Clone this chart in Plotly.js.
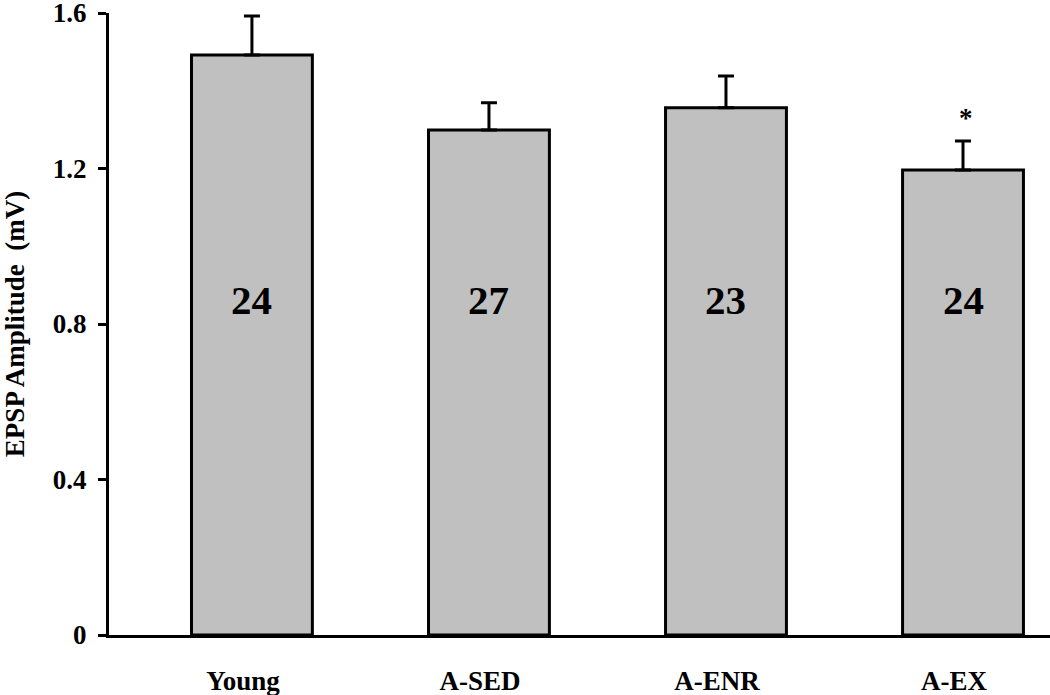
<!DOCTYPE html>
<html><head><meta charset="utf-8">
<script src="https://cdn.plot.ly/plotly-3.0.1.min.js"></script>
<style>body{margin:0;background:#fff}#c{width:1050px;height:695px}</style>
</head><body><div id="c"></div>
<script>
const categories = ["Young", "A-SED", "A-ENR", "A-EX"];
const means = [1.492, 1.299, 1.356, 1.196];
const sem = [0.100, 0.070, 0.082, 0.075];
const nLabels = ["24", "27", "23", "24"];
const nLabelY = 0.862;
const sigMarks = ["", "", "", "*"];

const serif = "Liberation Serif, Times New Roman, serif";
const annotations = categories.map((c, i) => ({
  x: c, y: nLabelY, xref: 'x', yref: 'y', text: '<b>' + nLabels[i] + '</b>',
  showarrow: false, font: {family: serif, size: 41, color: '#000'}
}));
categories.forEach((c, i) => {
  if (sigMarks[i]) annotations.push({
    x: c, y: means[i] + sem[i], xref: 'x', yref: 'y', yanchor: 'bottom', yshift: 6, xshift: 3,
    text: '<b>' + sigMarks[i] + '</b>', showarrow: false, font: {family: serif, size: 27, color: '#000'}
  });
});

Plotly.newPlot('c', [{
  type: 'bar', x: categories, y: means, width: 0.51,
  marker: {color: '#c0c0c0', line: {color: '#000', width: 3}},
  error_y: {type: 'data', symmetric: false, array: sem, arrayminus: sem.map(() => 0),
            color: '#000', thickness: 3, width: 8}
}], {
  width: 1050, height: 695,
  margin: {l: 109, r: 0, t: 13, b: 60},
  paper_bgcolor: '#fff', plot_bgcolor: '#fff',
  showlegend: false,
  xaxis: {range: [-0.603, 3.367], showline: true, linecolor: '#000', linewidth: 3,
          ticks: '', showgrid: false, zeroline: false, ticklabelstandoff: 20, ticklabelshift: -9,
          tickfont: {family: serif, size: 27, color: '#000'},
          tickvals: categories, ticktext: categories.map(c => '<b>' + c + '</b>')},
  yaxis: {range: [0, 1.6], showline: true, linecolor: '#000', linewidth: 3,
          ticks: 'outside', ticklen: 8, tickwidth: 3, tickcolor: '#000',
          showgrid: false, zeroline: false, ticklabelstandoff: 6, ticklabeloverflow: 'allow',
          tickvals: [0, 0.4, 0.8, 1.2, 1.6], ticktext: ['<b>0</b>', '<b>0.4</b>', '<b>0.8</b>', '<b>1.2</b>', '<b>1.6</b>'],
          tickfont: {family: serif, size: 27, color: '#000'},
          title: {text: '<b>EPSP Amplitude  (mV)</b>', font: {family: serif, size: 27, color: '#000'}, standoff: 24}},
  annotations: annotations
}, {staticPlot: true});
</script></body></html>
